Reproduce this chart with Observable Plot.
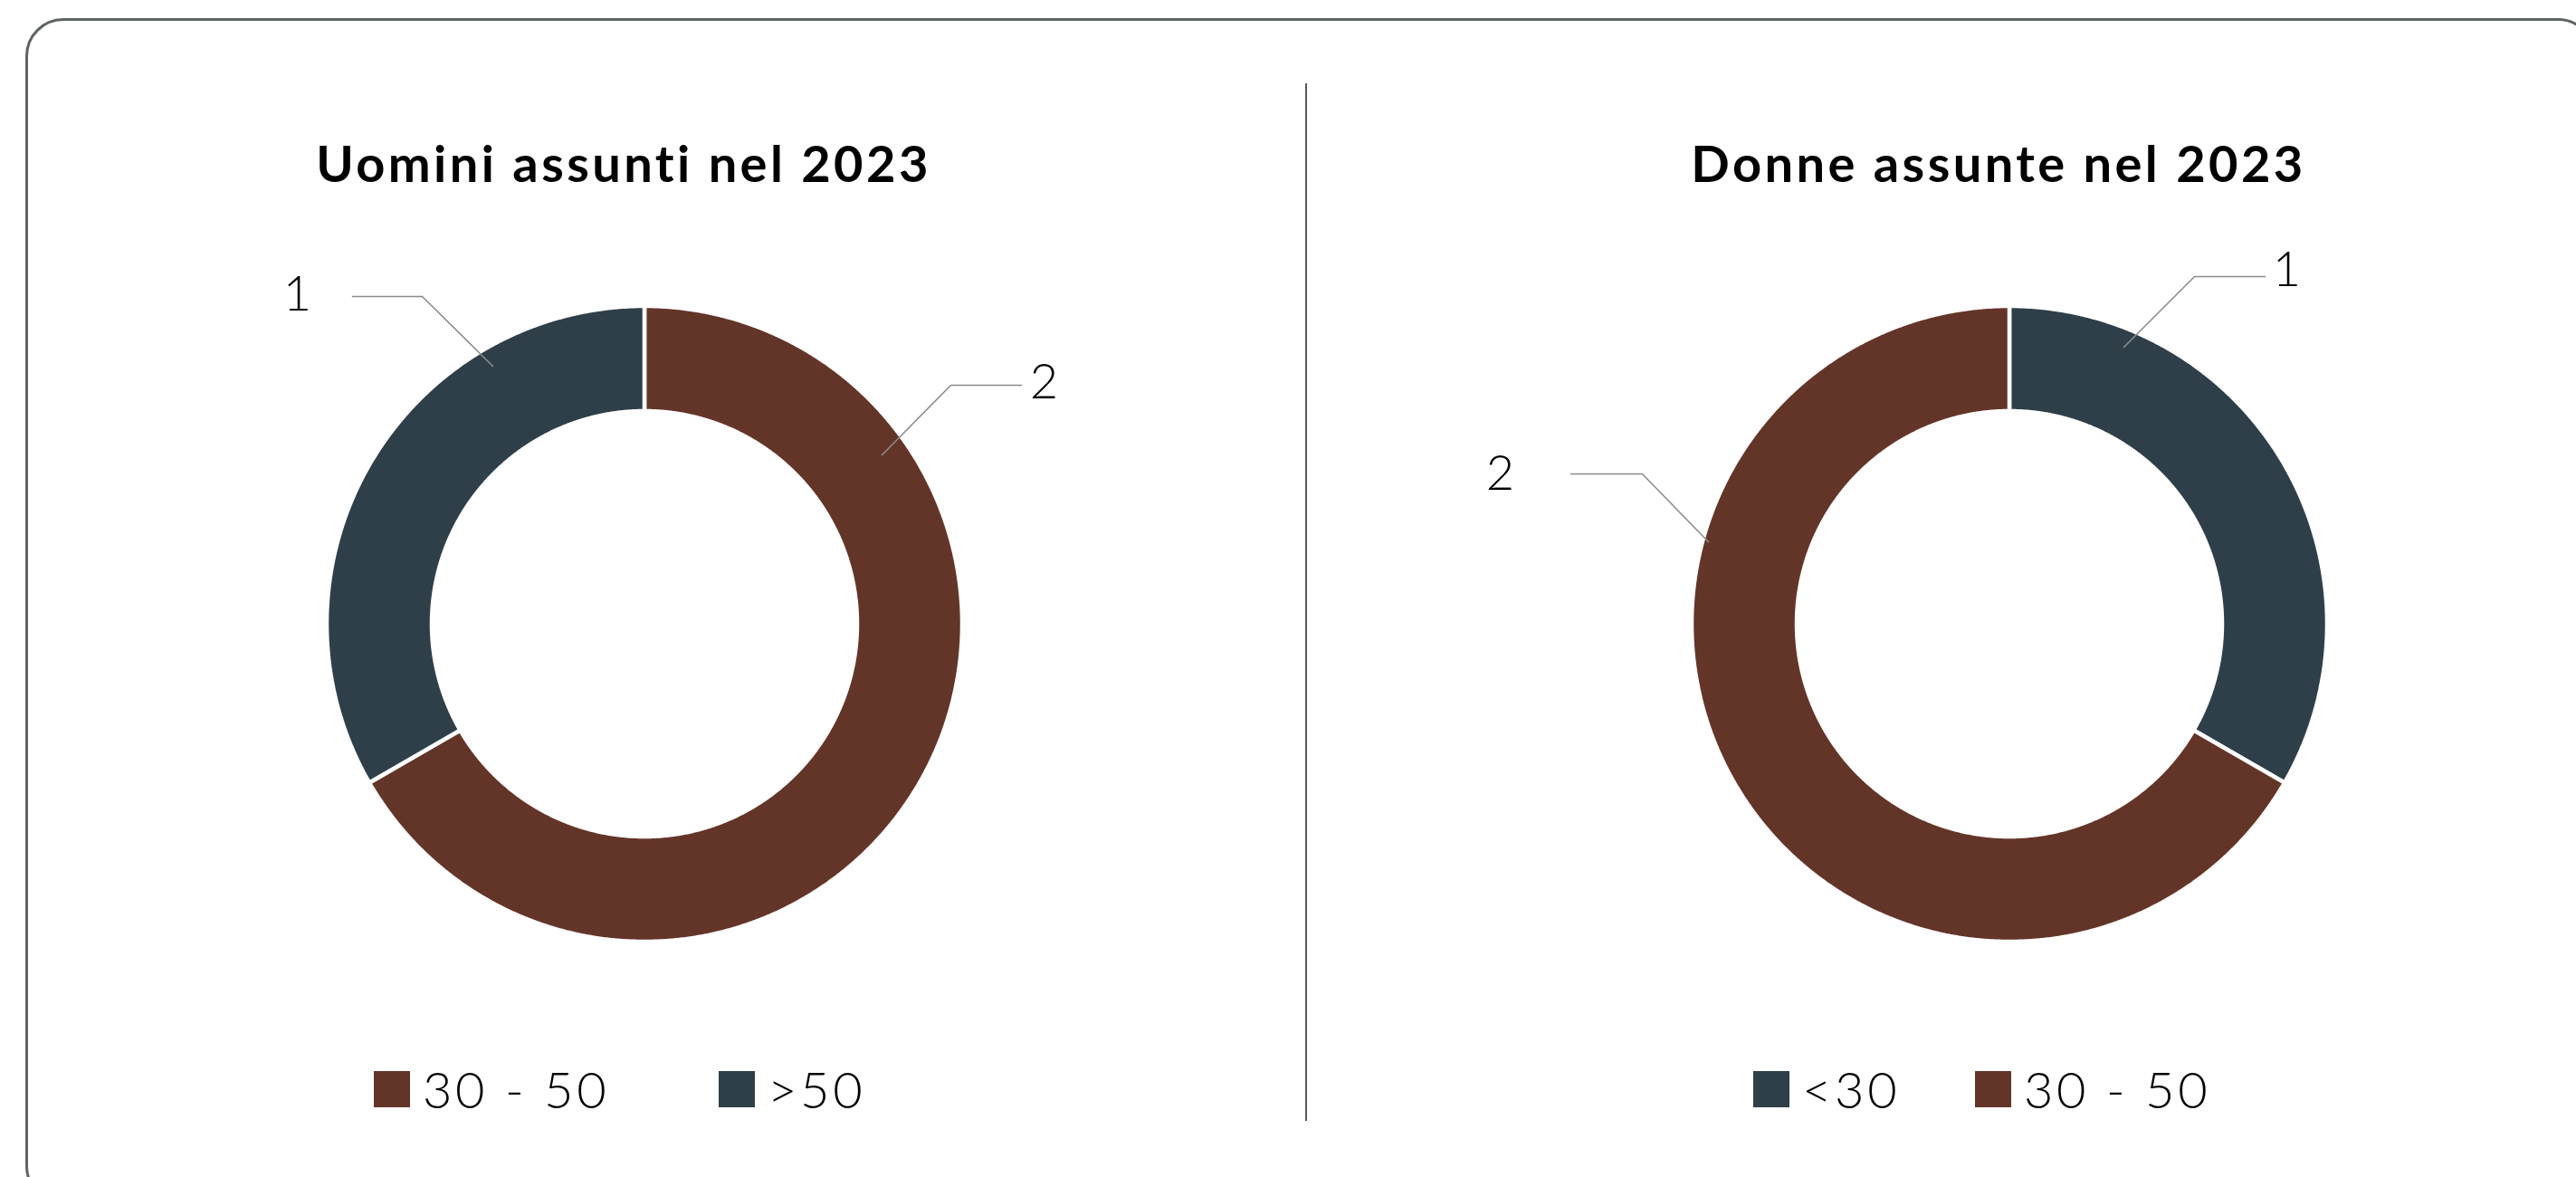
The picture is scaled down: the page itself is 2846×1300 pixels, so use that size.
<!DOCTYPE html>
<html><head><meta charset="utf-8">
<script src="https://cdn.jsdelivr.net/npm/d3@7"></script>
<script src="https://cdn.jsdelivr.net/npm/@observablehq/plot@0.6"></script>
<style>
html,body{margin:0;padding:0;background:#fff;}
body{width:2846px;height:1300px;position:relative;overflow:hidden;font-family:Lato,"Noto Sans",sans-serif;}
.frame{position:absolute;left:28px;top:20px;width:2840px;height:1310px;border:3px solid #5e6465;border-radius:42px;box-sizing:border-box;}
.divider{position:absolute;left:1442px;top:92px;width:2px;height:1146px;background:#5a5a5a;}
.title{position:absolute;top:152px;transform:translateX(-50%);font-size:56px;font-weight:700;letter-spacing:3.4px;white-space:nowrap;color:#000;line-height:1;}
.legend-item{position:absolute;top:1175px;display:flex;align-items:center;font-size:56px;font-weight:300;letter-spacing:3.6px;line-height:1;color:#000;white-space:nowrap;}
.sw{width:40px;height:40px;margin-right:14px;flex:none;}
.chart{position:absolute;}
.chart svg{background:transparent !important;}
</style></head><body>
<div class="frame"></div>
<div class="divider"></div>
<script>
// ---- data ----
const titles = ["Uomini assunti nel 2023", "Donne assunte nel 2023"];
const uominiCategories = ["30 - 50", ">50"];
const uominiValues = [2, 1];
const donneCategories = ["<30", "30 - 50"];
const donneValues = [1, 2];

// ---- styles ----
const categoryColors = {"<30": "#2f3f49", "30 - 50": "#633528", ">50": "#2f3f49"};
const R_OUT = 351, R_IN = 235;

// ---- layout (label / leader placement relative to donut centre, px) ----
const layout = [
  {cx: 712, cy: 689, titleX: 689, legendX: [413, 794],
   labels: {
     "30 - 50": {text: [441, -267], leader: [[416, -264], [338, -264], [262, -187]]},
     ">50": {text: [-384, -364], leader: [[-323, -362], [-246, -362], [-168, -285]]}
   }},
  {cx: 2220, cy: 689, titleX: 2208, legendX: [1937, 2182],
   labels: {
     "<30": {text: [306, -391], leader: [[282, -384], [204, -384], [126, -306]]},
     "30 - 50": {text: [-563, -166], leader: [[-485, -166], [-406, -166], [-333, -91]]}
   }}
];

const panels = [
  {title: titles[0], categories: uominiCategories, values: uominiValues},
  {title: titles[1], categories: donneCategories, values: donneValues}
];

const W = 1000, H = 840;

panels.forEach((p, i) => {
  const L = layout[i];
  const rows = p.categories.map((c, j) => ({category: c, value: p.values[j]}));
  const arcs = d3.pie().sort(null).value(d => d.value).startAngle(0).endAngle(2 * Math.PI)(rows);
  const pts = [];
  for (const s of arcs) {
    const n = Math.max(2, Math.ceil((s.endAngle - s.startAngle) / 0.005));
    for (let k = 0; k <= n; k++) {
      const a = s.startAngle + (s.endAngle - s.startAngle) * k / n;
      pts.push({category: s.data.category,
        x1: R_IN * Math.sin(a), y1: -R_IN * Math.cos(a),
        x2: R_OUT * Math.sin(a), y2: -R_OUT * Math.cos(a)});
    }
  }
  const leaders = [], labels = [];
  for (const r of rows) {
    const lab = L.labels[r.category];
    lab.leader.forEach(([x, y]) => leaders.push({category: r.category, x, y}));
    labels.push({x: lab.text[0], y: lab.text[1], value: r.value});
  }

  const chart = Plot.plot({
    width: W, height: H, margin: 0,
    x: {domain: [-W / 2, W / 2], axis: null},
    y: {domain: [H / 2, -H / 2], axis: null},
    color: {domain: p.categories, range: p.categories.map(c => categoryColors[c])},
    style: {fontFamily: "Lato, 'Noto Sans', sans-serif", background: "transparent", overflow: "visible"},
    marks: [
      Plot.area(pts, {x1: "x1", y1: "y1", x2: "x2", y2: "y2", z: "category", fill: "category",
        stroke: "white", strokeWidth: 4.5, strokeLinejoin: "miter"}),
      Plot.line(leaders, {x: "x", y: "y", z: "category", stroke: "#8c8c8c", strokeWidth: 1.6}),
      Plot.text(labels, {x: "x", y: "y", text: "value", fontSize: 54, fontWeight: 300, fill: "#000"})
    ]
  });
  const wrap = document.createElement("div");
  wrap.className = "chart";
  wrap.style.left = (L.cx - W / 2) + "px";
  wrap.style.top = (L.cy - H / 2) + "px";
  wrap.appendChild(chart);
  document.body.appendChild(wrap);

  const t = document.createElement("div");
  t.className = "title";
  t.style.left = L.titleX + "px";
  t.textContent = p.title;
  document.body.appendChild(t);

  p.categories.forEach((c, j) => {
    const item = document.createElement("div");
    item.className = "legend-item";
    item.style.left = L.legendX[j] + "px";
    const sw = document.createElement("div");
    sw.className = "sw"; sw.style.background = categoryColors[c];
    const tx = document.createElement("span");
    tx.textContent = c;
    item.appendChild(sw); item.appendChild(tx);
    document.body.appendChild(item);
  });
});
</script>
</body></html>
